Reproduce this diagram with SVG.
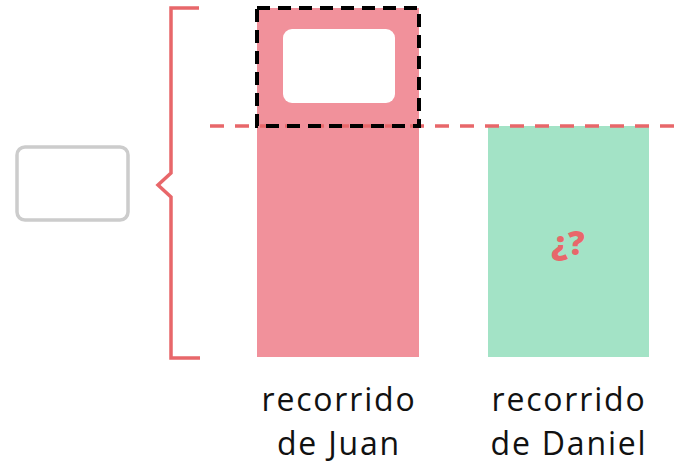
<svg xmlns="http://www.w3.org/2000/svg" width="676" height="464" viewBox="0 0 676 464">
<style>
.lbl{font-family:"Open Sans","Liberation Sans",sans-serif;font-size:32px;font-weight:500;fill:#111;text-anchor:middle;letter-spacing:1.8px}
.red{stroke:#e8676a;fill:none;stroke-width:3.5}
</style>
<rect width="676" height="464" fill="#fff"/>
<g id="bar-juan">
<rect x="257" y="8" width="162" height="349" fill="#f1919b"/>
<rect x="283" y="29" width="112" height="74" rx="9" fill="#fff"/>
</g>
<g id="bar-daniel">
<rect x="488" y="126" width="161" height="231" fill="#a3e3c6"/>
<text x="568" y="255" font-family="'Open Sans','Liberation Sans',sans-serif" font-size="33" font-weight="800" fill="#e8676a" text-anchor="middle">¿?</text>
</g>
<g id="answer-box">
<rect x="17" y="147" width="111" height="73" rx="8" fill="#fff" stroke="#cccccc" stroke-width="3.5"/>
</g>
<g id="brace">
<path class="red" d="M199 8 H171 V173 L158 185 L171 197 V358 H200" stroke-linejoin="miter"/>
</g>
<g id="connectors">
<line x1="210" y1="126" x2="676" y2="126" stroke="#e8676a" stroke-width="3.5" stroke-dasharray="14,11"/>
<rect x="257" y="8" width="162" height="118" fill="none" stroke="#000" stroke-width="4" stroke-dasharray="13,8"/>
</g>
<g id="labels">
<text class="lbl" x="339" y="411">recorrido</text>
<text class="lbl" x="339" y="455">de Juan</text>
<text class="lbl" x="569" y="411">recorrido</text>
<text class="lbl" x="569" y="455">de Daniel</text>
</g>
</svg>
